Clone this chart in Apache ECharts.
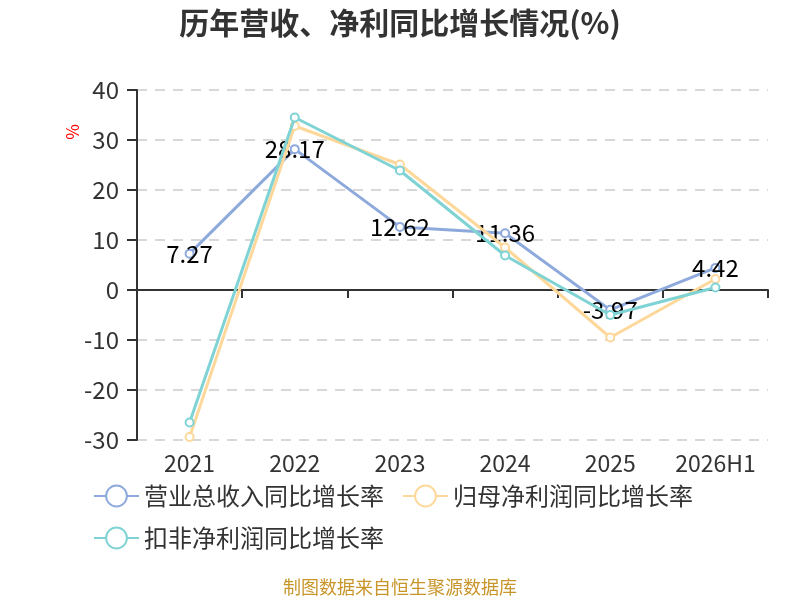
<!DOCTYPE html>
<html>
<head>
<meta charset="utf-8">
<script src="https://cdn.jsdelivr.net/npm/echarts@6/dist/echarts.min.js"></script>
<style>
html, body { margin: 0; padding: 0; background: #fff; }
#main { width: 800px; height: 600px; }
</style>
</head>
<body>
<div id="main"></div>
<script>
var categories = ['2021', '2022', '2023', '2024', '2025', '2026H1'];
var revenueGrowth = [7.27, 28.17, 12.62, 11.36, -3.97, 4.42];
var netProfitGrowth = [-29.4, 32.8, 25.1, 8.5, -9.5, 2.2];
var deductedProfitGrowth = [-26.5, 34.5, 23.9, 6.9, -5.0, 0.5];
var seriesNames = ['营业总收入同比增长率', '归母净利润同比增长率', '扣非净利润同比增长率'];

var font = '"Microsoft YaHei", "Noto Sans CJK SC", sans-serif';
var chart = echarts.init(document.getElementById('main'));

var option = {
    backgroundColor: '#fff',
    textStyle: { fontFamily: font },
    color: ['#8eaadc', '#fdd89a', '#7fd3d4'],
    title: {
        text: '历年营收、净利同比增长情况(%)',
        left: 'center',
        top: 3,
        textStyle: { fontSize: 30, fontWeight: 'bold', color: '#333', fontFamily: font }
    },
    grid: { left: 137, right: 32, top: 90, bottom: 160 },
    legend: {
        left: 88,
        top: 479,
        itemWidth: 45,
        itemHeight: 26,
        itemGap: 18,
        textStyle: { fontSize: 24, color: '#333' },
        data: seriesNames
    },
    graphic: [
        {
            type: 'text',
            left: 64,
            top: 124,
            rotation: Math.PI / 2,
            style: { text: '%', fill: '#ff0000', fontSize: 17, fontFamily: font }
        },
        {
            type: 'text',
            left: 'center',
            top: 578,
            style: { text: '制图数据来自恒生聚源数据库', fill: '#c8952a', fontSize: 18, fontFamily: font }
        }
    ],
    xAxis: [
        {
            type: 'category',
            data: categories,
            position: 'bottom',
            axisLine: { show: true, onZero: false, lineStyle: { color: 'transparent' } },
            axisTick: { show: false },
            axisLabel: { fontSize: 23, color: '#333', margin: 12, interval: 0, hideOverlap: false }
        },
        {
            type: 'category',
            data: categories,
            position: 'bottom',
            axisLine: { onZero: true, lineStyle: { color: '#333', width: 2 } },
            axisTick: { show: true, length: 8, interval: 0, lineStyle: { color: '#333', width: 2 } },
            axisLabel: { show: false }
        }
    ],
    yAxis: {
        type: 'value',
        min: -30,
        max: 40,
        interval: 10,
        axisLine: { show: true, lineStyle: { color: '#333', width: 2 } },
        axisTick: { show: true, length: 10, lineStyle: { color: '#333', width: 2 } },
        axisLabel: { fontSize: 24, color: '#333', margin: 18 },
        splitLine: { lineStyle: { type: [10, 8], color: '#ccc', width: 1.5 } }
    },
    series: [
        {
            name: seriesNames[0],
            type: 'line',
            data: revenueGrowth,
            symbol: 'emptyCircle',
            symbolSize: 8,
            lineStyle: { width: 3 },
            label: { show: true, position: 'inside', fontSize: 24, color: '#000' },
            z: 2
        },
        {
            name: seriesNames[1],
            type: 'line',
            data: netProfitGrowth,
            symbol: 'emptyCircle',
            symbolSize: 8,
            lineStyle: { width: 3 },
            z: 3
        },
        {
            name: seriesNames[2],
            type: 'line',
            data: deductedProfitGrowth,
            symbol: 'emptyCircle',
            symbolSize: 8,
            lineStyle: { width: 3 },
            z: 4
        }
    ]
};

chart.setOption(option);
</script>
</body>
</html>
